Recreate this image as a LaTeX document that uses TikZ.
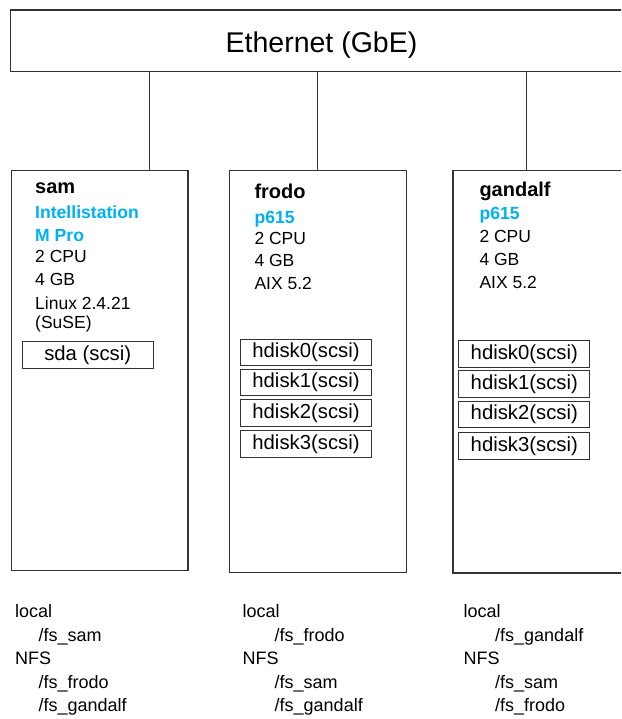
\documentclass[tikz,border=0pt]{standalone}
\usepackage{fontspec}
\setmainfont{Liberation Sans}
\definecolor{modelblue}{HTML}{00B0F0}
\definecolor{edge}{HTML}{333333}
\begin{document}
\begin{tikzpicture}[x=1pt,y=-1pt,
  frame/.style={draw=edge, line width=1.2pt, inner sep=0, anchor=north west},
  info/.style={inner sep=0, anchor=base west, font=\fontsize{17.5}{21}\selectfont},
  host/.style={inner sep=0, anchor=base west, font=\fontsize{20}{24}\selectfont\bfseries},
  model/.style={inner sep=0, anchor=base west, font=\fontsize{17.6}{21}\selectfont\bfseries, text=modelblue},
  disk/.style={draw=edge, line width=1pt, inner sep=0, minimum width=131pt, minimum height=26.5pt, anchor=north west, font=\fontsize{20.3}{24}\selectfont},
  fs/.style={inner sep=0, anchor=base west, font=\fontsize{18}{22}\selectfont},
  link/.style={draw=edge, line width=1pt}]
\clip (0,0) rectangle (621,719);

% network backbone
\node[frame, minimum width=625pt, minimum height=61.5pt] (eth) at (10,9.5) {};
\node[inner sep=0, anchor=base, font=\fontsize{28.5}{34}\selectfont] (ethlabel) at (321.5,53) {Ethernet (GbE)};

% host boxes
\node[frame, minimum width=176.3pt, minimum height=400pt] (sam) at (11,170) {};
\node[frame, minimum width=176.7pt, minimum height=402pt] (frodo) at (229,169.7) {};
\node[frame, minimum width=185pt, minimum height=402.3pt] (gandalf) at (452.3,170) {};

% links to the backbone
\draw[link] (eth.south -| 149.3,0) -- (149.3,0 |- sam.north);
\draw[link] (eth.south -| 317.2,0) -- (317.2,0 |- frodo.north);
\draw[link] (eth.south -| 526.7,0) -- (526.7,0 |- gandalf.north);

% sam
\node[host]  (samname) at (35,194) {sam};
\node[model] (sammodel1) at (35,218.3) {Intellistation};
\node[model] (sammodel2) at (35,241) {M Pro};
\node[info]  (samcpu) at (35,262.7) {2 CPU};
\node[info]  (samram) at (35,285) {4 GB};
\node[info]  (samos1) at (35,309) {Linux 2.4.21};
\node[info]  (samos2) at (35,328) {(SuSE)};
\node[disk, minimum height=27.3pt] (sda) at (21.7,341) {sda (scsi)};

% frodo
\node[host]  (frodoname) at (254.3,198.3) {frodo};
\node[model] (frodomodel) at (254.3,223.3) {p615};
\node[info]  (frodocpu) at (254.3,244.3) {2 CPU};
\node[info]  (frodoram) at (254.3,266.7) {4 GB};
\node[info]  (frodoos) at (254.3,289.3) {AIX 5.2};
\node[disk] (fd0) at (240,338.7) {hdisk0(scsi)};
\node[disk] (fd1) at (240,368.7) {hdisk1(scsi)};
\node[disk] (fd2) at (240,399) {hdisk2(scsi)};
\node[disk] (fd3) at (240,430.3) {hdisk3(scsi)};

% gandalf
\node[host]  (gandalfname) at (479.3,196.7) {gandalf};
\node[model] (gandalfmodel) at (479.3,219.3) {p615};
\node[info]  (gandalfcpu) at (479.3,242.3) {2 CPU};
\node[info]  (gandalfram) at (479.3,265.7) {4 GB};
\node[info]  (gandalfos) at (479.3,288.3) {AIX 5.2};
\node[disk] (gd0) at (458.3,340.3) {hdisk0(scsi)};
\node[disk] (gd1) at (458.3,370.3) {hdisk1(scsi)};
\node[disk] (gd2) at (458.3,400.7) {hdisk2(scsi)};
\node[disk] (gd3) at (458.3,432.3) {hdisk3(scsi)};

% file systems per host
\node[fs] (samlocal) at (15,617) {local};
\node[fs] (samfs1) at (38.4,641) {/fs\_sam};
\node[fs] (samnfs) at (15,664) {NFS};
\node[fs] (samfs2) at (38.4,688) {/fs\_frodo};
\node[fs] (samfs3) at (38.4,711) {/fs\_gandalf};

\node[fs] (frodolocal) at (242.4,617) {local};
\node[fs] (frodofs1) at (274.5,641) {/fs\_frodo};
\node[fs] (frodonfs) at (242.4,664) {NFS};
\node[fs] (frodofs2) at (274.5,688) {/fs\_sam};
\node[fs] (frodofs3) at (274.5,711) {/fs\_gandalf};

\node[fs] (gandalflocal) at (463.4,617) {local};
\node[fs] (gandalffs1) at (495,641) {/fs\_gandalf};
\node[fs] (gandalfnfs) at (463.4,664) {NFS};
\node[fs] (gandalffs2) at (495,688) {/fs\_sam};
\node[fs] (gandalffs3) at (495,711) {/fs\_frodo};
\end{tikzpicture}
\end{document}
